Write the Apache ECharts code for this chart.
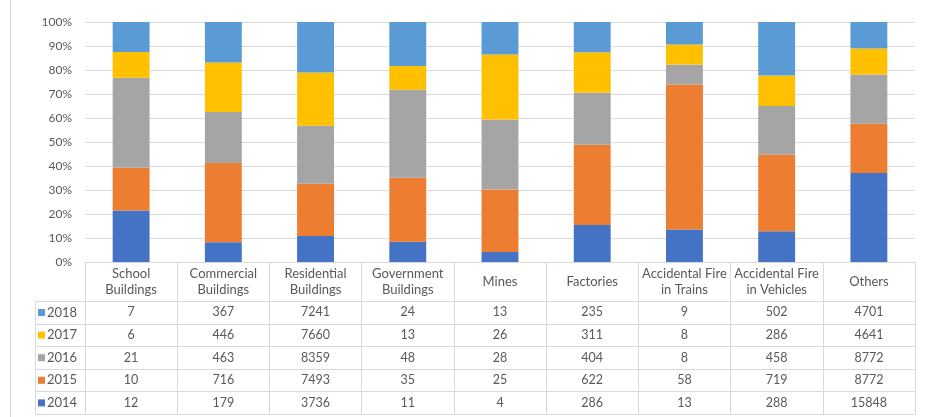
<!DOCTYPE html>
<html>
<head>
<meta charset="utf-8">
<script src="https://cdn.jsdelivr.net/npm/echarts@6/dist/echarts.min.js"></script>
<style>html,body{margin:0;padding:0;background:#fff;}#c{width:931px;height:417px;}</style>
</head>
<body>
<div id="c"></div>
<script>
const categories = ['School\nBuildings','Commercial\nBuildings','Residential\nBuildings','Government\nBuildings','Mines','Factories','Accidental Fire\nin Trains','Accidental Fire\nin Vehicles','Others'];
const years = ['2014','2015','2016','2017','2018'];
const v2014 = [12, 179, 3736, 11, 4, 286, 13, 288, 15848];
const v2015 = [10, 716, 7493, 35, 25, 622, 58, 719, 8772];
const v2016 = [21, 463, 8359, 48, 28, 404, 8, 458, 8772];
const v2017 = [6, 446, 7660, 13, 26, 311, 8, 286, 4641];
const v2018 = [7, 367, 7241, 24, 13, 235, 9, 502, 4701];
const yTicks = [0,10,20,30,40,50,60,70,80,90,100];

const values = [v2014, v2015, v2016, v2017, v2018];
const colors = ['#4472C4','#ED7D31','#A5A5A5','#FFC000','#5B9BD5'];
const totals = categories.map((c,i)=>values.reduce((s,a)=>s+a[i],0));

// layout
const W = 931, H = 417;
const gLeft = 85, gRight = 16, gTop = 22, gBottom = 155;
const axisY = H - gBottom;       // 262
const headerH = 39;
const rowH = 22.6;
const legendLeft = 35;
const font = 'Lato, "Open Sans", sans-serif';
const txt = '#595959';
const lineC = '#d9d9d9';

const series = years.map((y,k)=>({
  name: y, type: 'bar', stack: 'all', barWidth: '40%',
  itemStyle: {color: colors[k]},
  xAxisIndex: 0,
  data: values[k].map((v,i)=> v / totals[i] * 100)
}));

// table row order (top -> bottom): 2018..2014
const rowOrder = [4,3,2,1,0];
const xAxes = [{
  type: 'category', data: categories, position: 'bottom', gridIndex: 0,
  axisLine: {show: true, lineStyle: {color: lineC}},
  axisTick: {show: true, interval: 0, length: headerH + rowH*5, lineStyle: {color: lineC}},
  axisLabel: {interval: 0, color: txt, fontFamily: font, fontSize: 13, lineHeight: 16, verticalAlign: 'middle', margin: headerH/2}
}];
rowOrder.forEach((k,r)=>{
  xAxes.push({
    type: 'category', data: categories, position: 'bottom', gridIndex: 0,
    offset: headerH + r*rowH,
    axisLine: {show: false}, axisTick: {show: false},
    axisLabel: {interval: 0, color: txt, fontFamily: font, fontSize: 12.5, verticalAlign: 'middle', margin: rowH/2,
      formatter: (val, idx) => String(values[k][idx])}
  });
});

const graphics = [];
// left outer border
graphics.push({type:'line', shape:{x1:10.5,y1:0,x2:10.5,y2:H}, style:{stroke:lineC, lineWidth:1}});
// horizontal table lines
for (let r=0;r<=5;r++){
  const y = Math.round(axisY + headerH + r*rowH) + 0.5;
  graphics.push({type:'line', shape:{x1:legendLeft, y1:y, x2:W-gRight, y2:y}, style:{stroke:lineC, lineWidth:1}});
}
// left vertical line of legend column
graphics.push({type:'line', shape:{x1:legendLeft+0.5, y1:axisY+headerH, x2:legendLeft+0.5, y2:axisY+headerH+5*rowH}, style:{stroke:lineC, lineWidth:1}});

const option = {
  animation: false,
  backgroundColor: '#fff',
  grid: {left: gLeft, right: gRight, top: gTop, bottom: gBottom, containLabel: false},
  legend: {
    orient: 'vertical', left: legendLeft + 3, top: axisY + headerH + 4.5,
    data: rowOrder.map(k=>years[k]),
    icon: 'rect', itemWidth: 7, itemHeight: 7, itemGap: rowH - 14,
    textStyle: {color: txt, fontFamily: font, fontSize: 13, lineHeight: 14, padding: [0,0,0,-3]},
    padding: 0, selectedMode: false
  },
  xAxis: xAxes,
  yAxis: {
    type: 'value', min: 0, max: 100, interval: 10,
    axisLine: {show: false}, axisTick: {show: false},
    splitLine: {lineStyle: {color: lineC}},
    axisLabel: {color: txt, fontFamily: font, fontSize: 12, margin: 13,
      formatter: v => yTicks.includes(v) ? v + '%' : ''}
  },
  series: series,
  graphic: graphics
};
const chart = echarts.init(document.getElementById('c'), null, {renderer: 'canvas'});
chart.setOption(option);
</script>
</body>
</html>
